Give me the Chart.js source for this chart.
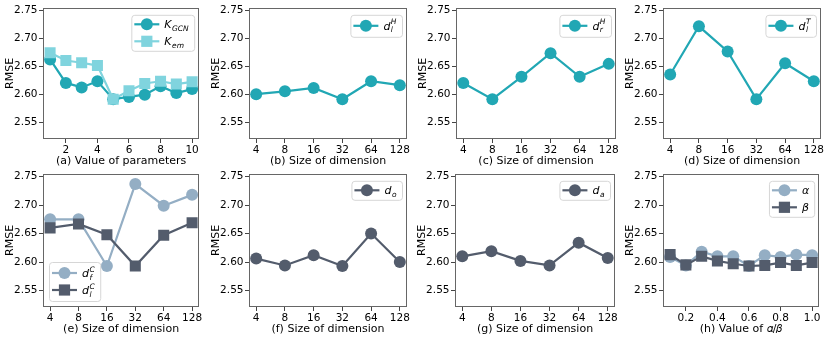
<!DOCTYPE html>
<html>
<head>
<meta charset="utf-8">
<script src="https://cdn.jsdelivr.net/npm/chart.js@4.4.1/dist/chart.umd.min.js"></script>
<style>
  body { margin: 0; background: #fff; width: 830px; height: 338px; position: relative; overflow: hidden; }
  canvas { position: absolute; }
</style>
</head>
<body>
<canvas id="pa"></canvas>
<canvas id="pb"></canvas>
<canvas id="pc"></canvas>
<canvas id="pd"></canvas>
<canvas id="pe"></canvas>
<canvas id="pf"></canvas>
<canvas id="pg"></canvas>
<canvas id="ph"></canvas>
<script>
const rmseTicks = [2.55, 2.60, 2.65, 2.70, 2.75];

const paramValues = [1, 2, 3, 4, 5, 6, 7, 8, 9, 10];
const paramTicks = [2, 4, 6, 8, 10];
const kGcn = [2.663, 2.621, 2.613, 2.624, 2.592, 2.596, 2.600, 2.615, 2.603, 2.610];
const kEm = [2.675, 2.661, 2.657, 2.652, 2.592, 2.607, 2.620, 2.624, 2.619, 2.623];

const dimLabels = ['4', '8', '16', '32', '64', '128'];
const dlH = [2.601, 2.606, 2.612, 2.592, 2.624, 2.617];
const drH = [2.621, 2.592, 2.632, 2.674, 2.632, 2.655];
const dlT = [2.636, 2.722, 2.677, 2.592, 2.656, 2.624];
const dfC = [2.675, 2.675, 2.593, 2.737, 2.699, 2.718];
const dlC = [2.660, 2.667, 2.648, 2.593, 2.647, 2.669];
const dO = [2.606, 2.594, 2.612, 2.593, 2.650, 2.600];
const dA = [2.610, 2.619, 2.602, 2.594, 2.634, 2.607];

const ratioValues = [0.1, 0.2, 0.3, 0.4, 0.5, 0.6, 0.7, 0.8, 0.9, 1.0];
const ratioTicks = [0.2, 0.4, 0.6, 0.8, 1.0];
const alphaVals = [2.609, 2.594, 2.618, 2.610, 2.610, 2.593, 2.612, 2.609, 2.613, 2.612];
const betaVals = [2.613, 2.595, 2.610, 2.602, 2.597, 2.593, 2.594, 2.599, 2.594, 2.599];

const FONT = 'DejaVu Sans';
const teal = '#21a7b4';
const lightTeal = '#80d4de';
const slate = '#94aec4';
const darkSlate = '#535c6c';

// frame around the plotting area (all four spines)
const frame = {
  id: 'frame',
  afterDatasetsDraw(chart) {
    const a = chart.chartArea;
    const ctx = chart.ctx;
    ctx.save();
    ctx.strokeStyle = '#666';
    ctx.lineWidth = 1;
    ctx.strokeRect(Math.round(a.left) + 0.5, Math.round(a.top) + 0.5,
      Math.round(a.right - a.left) - 1, Math.round(a.bottom - a.top) - 1);
    ctx.restore();
  }
};

function labelWidth(ctx, it) {
  ctx.font = 'italic 11px ' + FONT;
  let w = ctx.measureText(it.main).width;
  ctx.font = 'italic 7.5px ' + FONT;
  const s = Math.max(it.sub ? ctx.measureText(it.sub).width : 0, it.sup ? ctx.measureText(it.sup).width : 0);
  return w + (s ? s + 1 : 0);
}

// legend with line+marker handles and sub/superscript labels
const mathLegend = {
  id: 'mathLegend',
  afterDraw(chart, args, opts) {
    if (!opts.items) return;
    const ctx = chart.ctx;
    const a = chart.chartArea;
    const items = opts.items;
    const tall = items.some(it => it.sup);
    const pad = tall ? 11 : 9.5;
    const rowGap = 17;
    const lineLen = 25;
    const w = 3 + lineLen + 5 + Math.max(...items.map(it => labelWidth(ctx, it))) + 5;
    const h = (items.length - 1) * rowGap + 2 * pad;
    const x0 = opts.corner === 'bl' ? a.left + 6 : a.right - 5 - w;
    const y0 = opts.corner === 'bl' ? a.bottom - 6 - h : a.top + 7;
    ctx.save();
    ctx.beginPath();
    ctx.roundRect(x0 + 0.5, y0 + 0.5, w, h, 3);
    ctx.fillStyle = 'rgba(255,255,255,0.8)';
    ctx.fill();
    ctx.strokeStyle = '#d6d6d6';
    ctx.lineWidth = 1;
    ctx.stroke();
    items.forEach((it, i) => {
      const ds = chart.data.datasets[i];
      const cy = y0 + pad + i * rowGap;
      const lx = x0 + 3;
      ctx.strokeStyle = ds.borderColor;
      ctx.lineWidth = 2.2;
      ctx.beginPath();
      ctx.moveTo(lx, cy);
      ctx.lineTo(lx + lineLen, cy);
      ctx.stroke();
      ctx.fillStyle = ds.borderColor;
      const mx = lx + lineLen / 2;
      if (ds.pointStyle === 'rect') {
        ctx.fillRect(mx - 5.6, cy - 5.6, 11.2, 11.2);
      } else {
        ctx.beginPath();
        ctx.arc(mx, cy, 6, 0, Math.PI * 2);
        ctx.fill();
      }
      let tx = lx + lineLen + 5;
      const by = cy + 4;
      ctx.fillStyle = '#000';
      ctx.textBaseline = 'alphabetic';
      ctx.textAlign = 'left';
      ctx.font = 'italic 11px ' + FONT;
      ctx.fillText(it.main, tx, by);
      tx += ctx.measureText(it.main).width + 0.5;
      ctx.font = 'italic 7.5px ' + FONT;
      if (it.sup) ctx.fillText(it.sup, tx, by - 5.5);
      if (it.sub) ctx.fillText(it.sub, tx, by + 2.5);
    });
    ctx.restore();
  }
};

function series(xs, ys, color, style) {
  return {
    data: ys.map((y, i) => ({ x: xs[i], y: y })),
    borderColor: color,
    backgroundColor: color,
    borderWidth: 2.2,
    pointStyle: style,
    pointRadius: style === 'rect' ? 7.8 : 6,
    pointBorderWidth: 0,
    pointBackgroundColor: color,
    tension: 0
  };
}

const dimIndex = dimLabels.map((d, i) => i);

function makePanel(id, box, xAxis, datasets, legendItems, corner) {
  const canvas = document.getElementById(id);
  canvas.width = 43 + box.w + 4;
  canvas.height = 6 + box.h + 31;
  canvas.style.left = (box.left - 43) + 'px';
  canvas.style.top = box.top + 'px';
  new Chart(canvas, {
    type: 'line',
    data: { datasets: datasets },
    plugins: [frame, mathLegend],
    options: {
      responsive: false,
      animation: false,
      events: [],
      layout: { padding: { top: 6, right: 4, left: 0, bottom: 0 } },
      plugins: {
        legend: { display: false },
        tooltip: { enabled: false },
        mathLegend: { items: legendItems, corner: corner }
      },
      scales: {
        x: {
          type: 'linear',
          min: xAxis.min,
          max: xAxis.max,
          afterBuildTicks: s => { s.ticks = xAxis.ticks.map(v => ({ value: v })); },
          afterFit: s => { s.height = 31; },
          border: { display: false },
          grid: { drawOnChartArea: false, drawTicks: true, tickLength: 4, color: '#444' },
          ticks: {
            callback: xAxis.label,
            color: '#000',
            font: { family: FONT, size: 10.5 },
            padding: 1,
            maxRotation: 0,
            autoSkip: false
          },
          title: {
            display: true,
            text: xAxis.title,
            color: '#000',
            font: { family: FONT, size: 11 },
            padding: { top: 0, bottom: 2.4 }
          }
        },
        y: {
          type: 'linear',
          min: 2.521,
          max: 2.755,
          afterBuildTicks: s => { s.ticks = rmseTicks.map(v => ({ value: v })); },
          afterFit: s => { s.width = 43; },
          border: { display: false },
          grid: { drawOnChartArea: false, drawTicks: true, tickLength: 4, color: '#444' },
          ticks: {
            callback: v => v.toFixed(2),
            color: '#000',
            font: { family: FONT, size: 10.5 },
            padding: 1.5
          },
          title: {
            display: true,
            text: 'RMSE',
            color: '#000',
            font: { family: FONT, size: 11 },
            padding: { top: 3.5, bottom: 0 }
          }
        }
      }
    }
  });
}

const dimAxis = title => ({
  min: -0.25, max: 5.25, ticks: dimIndex, label: v => dimLabels[v], title: title
});

makePanel('pa', { left: 43, top: 0, w: 160, h: 133 },
  { min: 0.55, max: 10.45, ticks: paramTicks, label: v => String(v), title: '(a) Value of parameters' },
  [Object.assign(series(paramValues, kGcn, teal, 'circle'), { order: 2 }),
   Object.assign(series(paramValues, kEm, lightTeal, 'rect'), { order: 1 })],
  [{ main: 'K', sub: 'GCN' }, { main: 'K', sub: 'em' }], 'tr');

makePanel('pb', { left: 249, top: 0, w: 160, h: 133 }, dimAxis('(b) Size of dimension'),
  [series(dimIndex, dlH, teal, 'circle')], [{ main: 'd', sub: 'l', sup: 'H' }], 'tr');

makePanel('pc', { left: 456, top: 0, w: 162, h: 133 }, dimAxis('(c) Size of dimension'),
  [series(dimIndex, drH, teal, 'circle')], [{ main: 'd', sub: 'r', sup: 'H' }], 'tr');

makePanel('pd', { left: 663, top: 0, w: 160, h: 133 }, dimAxis('(d) Size of dimension'),
  [series(dimIndex, dlT, teal, 'circle')], [{ main: 'd', sub: 'l', sup: 'T' }], 'tr');

makePanel('pe', { left: 43, top: 166, w: 160, h: 135 }, dimAxis('(e) Size of dimension'),
  [Object.assign(series(dimIndex, dfC, slate, 'circle'), { order: 2 }),
   Object.assign(series(dimIndex, dlC, darkSlate, 'rect'), { order: 1 })],
  [{ main: 'd', sub: 'f', sup: 'C' }, { main: 'd', sub: 'l', sup: 'C' }], 'bl');

makePanel('pf', { left: 249, top: 166, w: 160, h: 135 }, dimAxis('(f) Size of dimension'),
  [series(dimIndex, dO, darkSlate, 'circle')], [{ main: 'd', sub: 'o' }], 'tr');

makePanel('pg', { left: 455, top: 166, w: 162, h: 135 }, dimAxis('(g) Size of dimension'),
  [series(dimIndex, dA, darkSlate, 'circle')], [{ main: 'd', sub: 'a' }], 'tr');

makePanel('ph', { left: 663, top: 166, w: 160, h: 135 },
  { min: 0.055, max: 1.045, ticks: ratioTicks, label: v => v.toFixed(1), title: '(h) Value of \u{1D6FC}/\u{1D6FD}' },
  [Object.assign(series(ratioValues, alphaVals, slate, 'circle'), { order: 2 }),
   Object.assign(series(ratioValues, betaVals, darkSlate, 'rect'), { order: 1 })],
  [{ main: '\u03B1' }, { main: '\u03B2' }], 'tr');
</script>
</body>
</html>
